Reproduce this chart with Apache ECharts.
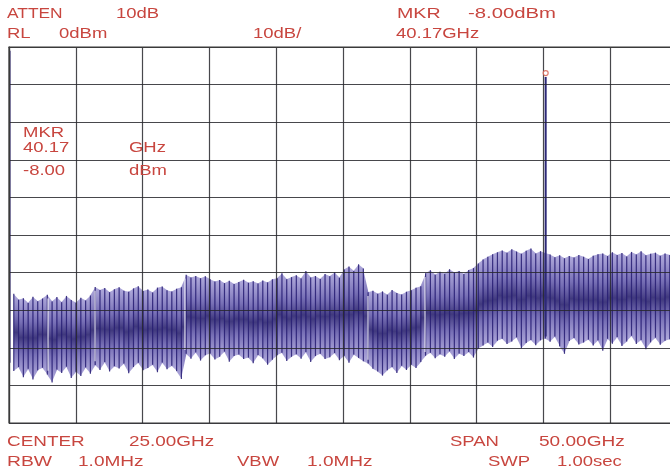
<!DOCTYPE html>
<html>
<head>
<meta charset="utf-8">
<script src="https://cdn.jsdelivr.net/npm/echarts@6/dist/echarts.min.js"></script>
<style>
html,body{margin:0;padding:0;background:#fff;}
#chart{width:670px;height:471px;}
</style>
</head>
<body>
<div id="chart"></div>
<script>
// ---- sweep settings ----
const startGHz = 0;
const stopGHz = 50;
const refLevel = 0;
const bottomLevel = -100;
const freqStep = 5;     // GHz per division
const levelStep = 10;   // dB per division

// ---- trace: local maxima (peaks) and minima (valleys) of the sweep, dBm ----
const tracePeaks = [
  // 0 - 6.1 GHz
  -1, -65.6, -67.2, -66.8, -68.1, -66.4, -67.6, -66.9, -65.9, -67.7, -66.5, -67.9, -66.2, -67.3, -68.0, -66.7, -67.4, -66.1,
  // 6.5 - 12.9 GHz
  -63.8, -64.6, -64.1, -65.2, -64.4, -63.9, -64.8, -65.1, -64.2, -63.6, -64.9, -64.5, -65.3, -64.0, -63.7, -64.7, -65.0, -64.3, -63.9,
  // 13.3 - 26.5 GHz
  -60.6, -61.3, -60.9, -61.5, -61.0, -61.8,
  -62.4, -62.0, -62.8, -62.2, -63.0, -62.5, -61.9, -62.7, -62.3, -62.9, -62.1, -62.6, -61.8,
  -61.5, -60.2, -61.8, -61.2, -60.7, -61.6, -59.6, -61.3, -60.9, -61.7, -60.4, -61.0, -59.9, -61.4,
  -59.2, -58.4, -59.6, -57.8, -58.9,
  // 26.9 - 30.8 GHz
  -65.2, -64.8, -65.6, -65.0, -65.9, -64.6, -65.4, -65.8, -65.1, -64.7, -64.0, -63.6,
  // 31.2 - 34.8 GHz
  -60.2, -59.4, -60.6, -59.8, -60.3, -59.1, -60.0, -59.6, -60.4, -59.3, -58.8,
  // 35.1 - 50 GHz
  -57.6, -56.5, -55.8, -55.1, -54.6,
  -54.1, -54.7, -53.8, -54.4, -55.0, -54.2, -53.6, -54.9, -54.3, -54.8,
  -55.2, -55.9, -55.4, -56.2, -55.6, -56.0, -55.3, -55.8, -56.4, -55.5, -55.1,
  -54.9, -55.6, -54.6, -55.3, -54.8, -55.7, -54.5, -55.2, -54.3, -55.4, -55.0, -54.7, -55.5, -54.9, -55.3, -54.6
];
const traceValleys = [
  -84.0, -86.2, -85.1, -87.8, -85.6, -88.4, -86.0, -85.3, -87.1, -89.2, -85.8, -86.7, -85.0, -88.0, -86.4, -87.5, -85.2, -86.9,
  -84.6, -85.9, -83.8, -86.3, -84.9, -85.5, -84.2, -86.8, -85.1, -84.0, -86.0, -85.4, -84.5, -86.5, -83.9, -85.7, -84.8, -86.2, -88.3,
  -81.6, -82.9, -81.2, -83.4, -82.0, -81.5, -83.1, -82.4, -81.0, -83.7, -82.2, -81.8, -83.0, -82.6, -84.1, -81.9, -82.8, -84.5, -83.2,
  -82.0, -81.3, -83.5, -82.4, -81.7, -82.9, -81.1, -83.8, -82.2, -81.6, -83.0, -82.5, -81.4, -83.3, -82.1, -84.0, -81.8, -82.7, -83.6,
  -84.2, -85.6, -86.3, -87.4, -86.0, -85.1, -86.7, -84.8, -85.9, -84.5, -85.4, -83.8,
  -82.1, -81.3, -82.8, -81.7, -82.4, -80.9, -83.0, -81.5, -82.2, -81.1, -82.6,
  -80.2, -79.4, -78.6, -79.8, -78.1,
  -77.6, -79.0, -78.3, -77.2, -80.1, -78.7, -77.9, -79.3, -78.0, -77.5,
  -78.4, -77.0, -79.6, -81.6, -78.2, -77.4, -79.1, -78.6, -77.8, -79.4, -78.0,
  -80.8, -77.6, -78.9, -77.1, -79.5, -78.3, -76.8, -79.0, -77.9, -80.4, -78.5, -77.3, -79.2, -78.1, -77.7, -78.8
];
// band-switch points, where the trace shows a thin blank line (GHz)
const bandSwitchGHz = [2.92, 6.44, 13.17, 26.87, 31.14];

// ---- carrier / marker ----
const markerFreqGHz = 40.17;
const markerLevel = -8.00;
const carrierFloor = -77;

// ---- annotation texts ----
const headerTexts = [
  ['ATTEN', '10dB', 'MKR', '-8.00dBm'],
  ['RL', '0dBm', '10dB/', '40.17GHz']
];
const footerTexts = [
  ['CENTER', '25.00GHz', 'SPAN', '50.00GHz'],
  ['RBW', '1.0MHz', 'VBW', '1.0MHz', 'SWP', '1.00sec']
];
const markerBoxTexts = ['MKR', '40.17', 'GHz', '-8.00', 'dBm'];

// ---- build trace ----
const n = Math.min(tracePeaks.length, traceValleys.length);
const nPts = 2 * n;
const fAt = i => startGHz + i * (stopGHz - startGHz) / (nPts - 1);
const strokes = [];   // [freq, valley, peak]
for (let k = 0; k < n; k++) {
  strokes.push([fAt(2 * k), traceValleys[k], tracePeaks[k]]);
}
// band cells between neighbouring strokes: [f0, v0, p0, f1, v1, p1]
const cells = [];
for (let k = 1; k < n - 1; k++) {
  cells.push([strokes[k][0], strokes[k][1], strokes[k][2], strokes[k + 1][0], strokes[k + 1][1], strokes[k + 1][2]]);
}
const gaps = bandSwitchGHz.map(f => {
  let best = 1, bd = 1e9;
  for (let k = 1; k < n; k++) { const d = Math.abs(strokes[k][0] - f); if (d < bd) { bd = d; best = k; } }
  return [f, strokes[best][1], strokes[best][2]];
});

const red = '#c8463f';
const gridColor = '#3a3a3a';
const FONT = '14px "Liberation Sans", Arial, sans-serif';
const SX = 1.32;

function txt(s, x, y, sx) {
  return {
    type: 'text', x: x, y: y, scaleX: sx || SX, scaleY: 1, silent: true, z: 100,
    style: { text: s, fill: red, font: FONT, textAlign: 'left', textVerticalAlign: 'middle', verticalAlign: 'middle' }
  };
}

const graphics = [
  txt(headerTexts[0][0], 7, 14, 1.24), txt(headerTexts[0][1], 116, 14), txt(headerTexts[0][2], 397, 14, 1.4), txt(headerTexts[0][3], 468, 14, 1.45),
  txt(headerTexts[1][0], 7, 34.5), txt(headerTexts[1][1], 59, 34.5), txt(headerTexts[1][2], 253, 34.5), txt(headerTexts[1][3], 396, 34.5),
  txt(footerTexts[0][0], 7, 442, 1.35), txt(footerTexts[0][1], 129, 442, 1.35), txt(footerTexts[0][2], 450, 442), txt(footerTexts[0][3], 539, 442, 1.36),
  txt(footerTexts[1][0], 7, 462, 1.38), txt(footerTexts[1][1], 78, 462, 1.36), txt(footerTexts[1][2], 237, 462), txt(footerTexts[1][3], 307, 462, 1.36),
  txt(footerTexts[1][4], 488, 462), txt(footerTexts[1][5], 557, 462),
  txt(markerBoxTexts[0], 23, 133), txt(markerBoxTexts[1], 23, 148), txt(markerBoxTexts[2], 129, 148),
  txt(markerBoxTexts[3], 23, 171), txt(markerBoxTexts[4], 129, 171)
];

const chart = echarts.init(document.getElementById('chart'), null, { renderer: 'canvas' });
const axisCommon = {
  z: 10,
  axisTick: { show: false },
  axisLabel: { show: false },
  axisLine: { show: true, lineStyle: { color: gridColor, width: 1.2 } },
  splitLine: { show: true, lineStyle: { color: 'rgba(40,40,45,0.85)', width: 1.2 } }
};

const bandGradient = {
  type: 'linear', x: 0, y: 0, x2: 0, y2: 1,
  colorStops: [
    { offset: 0, color: 'rgba(128,118,198,0.62)' },
    { offset: 0.3, color: 'rgba(82,72,162,0.78)' },
    { offset: 0.5, color: 'rgba(38,30,108,0.88)' },
    { offset: 0.7, color: 'rgba(82,72,162,0.78)' },
    { offset: 1, color: 'rgba(128,118,198,0.62)' }
  ]
};

chart.setOption({
  animation: false,
  backgroundColor: '#ffffff',
  grid: { left: 9, top: 47, width: 668, height: 376, outerBoundsMode: 'none', containLabel: false,
          show: true, borderColor: gridColor, borderWidth: 1.2, backgroundColor: 'transparent' },
  xAxis: Object.assign({ type: 'value', min: startGHz, max: stopGHz, interval: freqStep }, axisCommon),
  yAxis: Object.assign({ type: 'value', min: bottomLevel, max: refLevel, interval: levelStep }, axisCommon),
  graphic: graphics,
  series: [
    {
      type: 'custom', data: cells, z: 2, silent: true, clip: true,
      encode: { x: [0, 3], y: [1, 2, 4, 5] },
      renderItem: function (params, api) {
        const p0 = api.coord([api.value(0), api.value(2)]);
        const p1 = api.coord([api.value(3), api.value(5)]);
        const v1 = api.coord([api.value(3), api.value(4)]);
        const v0 = api.coord([api.value(0), api.value(1)]);
        return { type: 'polygon',
                 shape: { points: [[p0[0] - 0.3, p0[1]], [p1[0] + 0.3, p1[1]], [v1[0] + 0.3, v1[1]], [v0[0] - 0.3, v0[1]]] },
                 style: { fill: bandGradient } };
      }
    },
    {
      type: 'custom', data: strokes, z: 3, silent: true, clip: true,
      encode: { x: 0, y: [1, 2] },
      renderItem: function (params, api) {
        const a = api.coord([api.value(0), api.value(1)]);
        const b = api.coord([api.value(0), api.value(2)]);
        return { type: 'line', shape: { x1: a[0] + (params.dataIndex === 0 ? 1 : 0), y1: a[1], x2: b[0] + (params.dataIndex === 0 ? 1 : 0), y2: b[1] },
                 style: { stroke: 'rgba(40,30,115,0.85)', lineWidth: 1.2 } };
      }
    },
    {
      type: 'custom', data: gaps, z: 4, silent: true, clip: true,
      encode: { x: 0, y: [1, 2] },
      renderItem: function (params, api) {
        const a = api.coord([api.value(0), api.value(1) + 1]);
        const b = api.coord([api.value(0), api.value(2) - 1]);
        return { type: 'line', shape: { x1: a[0], y1: a[1], x2: b[0], y2: b[1] },
                 style: { stroke: 'rgba(255,255,255,0.8)', lineWidth: 1.2 } };
      }
    },
    {
      type: 'line', data: [[markerFreqGHz, markerLevel], [markerFreqGHz, carrierFloor]],
      showSymbol: false, symbol: 'none', z: 5,
      lineStyle: { color: '#2c2878', width: 2 }, silent: true
    },
    {
      type: 'scatter', data: [[markerFreqGHz, markerLevel]], symbol: 'circle', symbolSize: 5,
      symbolOffset: [0, -4], z: 12,
      itemStyle: { color: '#ffffff', borderColor: '#d65a4a', borderWidth: 1.2 }, silent: true
    }
  ]
});
</script>
</body>
</html>
